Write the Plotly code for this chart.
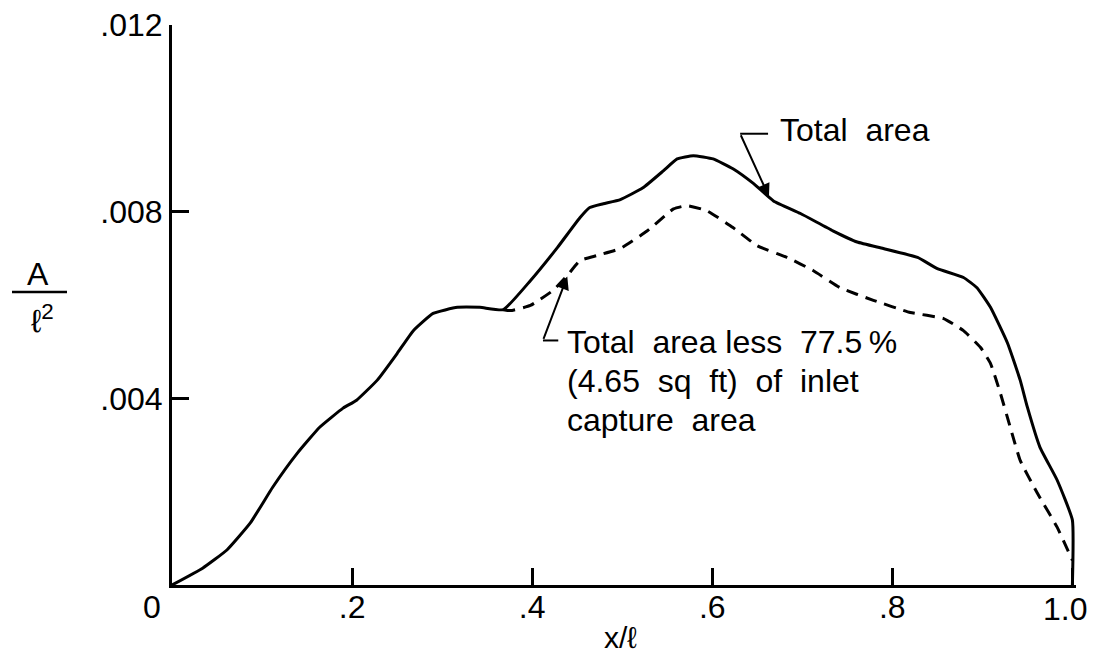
import plotly.graph_objects as go

# ---- data ----
total_x = [0.0, 0.034, 0.061, 0.087, 0.112, 0.139, 0.164, 0.19, 0.205, 0.228, 0.25, 0.268,
           0.29, 0.317, 0.342, 0.368, 0.398, 0.428, 0.453, 0.464, 0.479, 0.498, 0.523,
           0.546, 0.561, 0.579, 0.601, 0.623, 0.646, 0.668, 0.698, 0.734, 0.761, 0.79,
           0.828, 0.85, 0.879, 0.894, 0.909, 0.928, 0.942, 0.95, 0.964, 0.983, 1.0, 1.0]
total_y = [0.0, 0.00036, 0.00075, 0.00133, 0.00210, 0.00282, 0.00338, 0.00379, 0.00396,
           0.00439, 0.00496, 0.00545, 0.00582, 0.00595, 0.00595, 0.00590, 0.00652,
           0.00723, 0.00787, 0.00809, 0.00817, 0.00826, 0.00851, 0.00888, 0.00913,
           0.00920, 0.00913, 0.00892, 0.00860, 0.00823, 0.00796, 0.00759, 0.00735,
           0.00721, 0.00702, 0.00678, 0.00659, 0.00637, 0.00595, 0.00518, 0.00439,
           0.00381, 0.00295, 0.00225, 0.00139, 0.0]

less_x = [0.368, 0.376, 0.398, 0.423, 0.439, 0.453, 0.472, 0.498, 0.528, 0.557, 0.572,
          0.594, 0.623, 0.65, 0.683, 0.712, 0.742, 0.779, 0.82, 0.857, 0.879, 0.898,
          0.909, 0.92, 0.931, 0.942, 0.961, 0.983, 1.0]
less_y = [0.00590, 0.00588, 0.00599, 0.00631, 0.00663, 0.00695, 0.00706, 0.00721,
          0.00759, 0.00806, 0.00813, 0.00802, 0.00766, 0.00727, 0.00702, 0.00674,
          0.00637, 0.00610, 0.00584, 0.00571, 0.00545, 0.00509, 0.00475, 0.00411,
          0.00338, 0.00267, 0.00197, 0.00124, 0.00053]

x_tick_vals = [0.2, 0.4, 0.6, 0.8, 1.0]
x_tick_text = [".2", ".4", ".6", ".8", "1.0"]
y_tick_vals = [0.004, 0.008, 0.012]
y_tick_text = [".004", ".008", ".012"]

label_total = "Total\u00a0 area"
label_less = ["Total\u00a0 area less\u00a0 77.5\u2009%",
              "(4.65\u00a0 sq\u00a0 ft)\u00a0 of\u00a0 inlet",
              "capture\u00a0 area"]

FONT = "Liberation Sans, Arial, sans-serif"
BLACK = "#000000"

# page is drawn with the default 8px body margin
PLOT_L, PLOT_R, PLOT_T, PLOT_B = 172, 1076, 25, 585   # page pixels
PW, PH = PLOT_R - PLOT_L, PLOT_B - PLOT_T


def px(xp):
    return (xp - PLOT_L) / PW


def py(yp):
    return (PLOT_B - yp) / PH


fig = go.Figure()
fig.add_trace(go.Scatter(x=total_x, y=total_y, mode="lines",
                         line=dict(color=BLACK, width=3, shape="spline", smoothing=0.4),
                         showlegend=False, hoverinfo="skip"))
fig.add_trace(go.Scatter(x=less_x, y=less_y, mode="lines",
                         line=dict(color=BLACK, width=3, dash="12px,8px",
                                   shape="spline", smoothing=0.4),
                         showlegend=False, hoverinfo="skip"))

annotations = [
    dict(x=0.663, y=0.00832, ax=0.631, ay=0.00967, xref="x", yref="y", axref="x", ayref="y",
         text="", showarrow=True, arrowhead=2, arrowsize=1.3, arrowwidth=2, arrowcolor=BLACK,
         standoff=0),
    dict(x=0.439, y=0.00661, ax=0.412, ay=0.00524, xref="x", yref="y", axref="x", ayref="y",
         text="", showarrow=True, arrowhead=2, arrowsize=1.3, arrowwidth=2, arrowcolor=BLACK,
         standoff=0),
    dict(x=0.673, y=0.00975, xref="x", yref="y", text=label_total, showarrow=False,
         xanchor="left", yanchor="middle", font=dict(family=FONT, size=32, color=BLACK)),
    dict(x=px(152), y=py(607), xref="paper", yref="paper", text="0", showarrow=False,
         xanchor="center", yanchor="middle", font=dict(family=FONT, size=32, color=BLACK)),
    # last x tick label, kept inside the page edge
    dict(x=px(1089), y=py(609), xref="paper", yref="paper", text=x_tick_text[-1],
         showarrow=False, xanchor="right", yanchor="middle",
         font=dict(family=FONT, size=32, color=BLACK)),
    dict(x=px(38), y=py(274), xref="paper", yref="paper", text="A", showarrow=False,
         xanchor="center", yanchor="middle", font=dict(family=FONT, size=32, color=BLACK)),
    dict(x=px(42), y=py(319), xref="paper", yref="paper", text="\u2113<sup>2</sup>",
         showarrow=False, xanchor="center", yanchor="middle",
         font=dict(family=FONT, size=32, color=BLACK)),
    dict(x=px(620), y=py(637), xref="paper", yref="paper", text="x/\u2113", showarrow=False,
         xanchor="center", yanchor="middle", font=dict(family=FONT, size=30, color=BLACK)),
]
for txt, yy in zip(label_less, [342, 381, 420]):
    annotations.append(dict(x=px(565), y=py(yy), xref="paper", yref="paper", text=txt,
                            showarrow=False, xanchor="left", yanchor="middle",
                            font=dict(family=FONT, size=32, color=BLACK)))

shapes = [
    dict(type="line", xref="x", yref="y", x0=0.631, y0=0.00967, x1=0.662, y1=0.00967,
         line=dict(color=BLACK, width=2)),
    dict(type="line", xref="x", yref="y", x0=0.412, y0=0.00524, x1=0.429, y1=0.00524,
         line=dict(color=BLACK, width=2)),
    dict(type="line", xref="paper", yref="paper", x0=px(12), x1=px(67),
         y0=py(292), y1=py(292), line=dict(color=BLACK, width=2.5)),
]

FIG_W, FIG_H = 1081, 645
fig.update_layout(
    width=FIG_W, height=FIG_H,
    margin=dict(l=PLOT_L - 8, r=FIG_W - (PLOT_R - 8), t=PLOT_T - 8, b=FIG_H - (PLOT_B - 8),
                autoexpand=False),
    paper_bgcolor="white", plot_bgcolor="white",
    annotations=annotations, shapes=shapes,
    xaxis=dict(range=[0, 1.004], tickvals=x_tick_vals,
               ticktext=x_tick_text[:-1] + [""],
               ticks="inside", ticklen=17, tickwidth=2.5, tickcolor=BLACK,
               showline=True, linewidth=3, linecolor=BLACK, showgrid=False, zeroline=False,
               tickfont=dict(family=FONT, size=32, color=BLACK), ticklabelstandoff=-8,
               ticklabeloverflow="allow", automargin=False),
    yaxis=dict(range=[0, 0.012], tickvals=y_tick_vals, ticktext=y_tick_text,
               ticks="inside", ticklen=17, tickwidth=2.5, tickcolor=BLACK,
               showline=True, linewidth=3, linecolor=BLACK, showgrid=False, zeroline=False,
               tickfont=dict(family=FONT, size=32, color=BLACK), ticklabeloverflow="allow",
               automargin=False),
)

fig.write_html("out.html")
